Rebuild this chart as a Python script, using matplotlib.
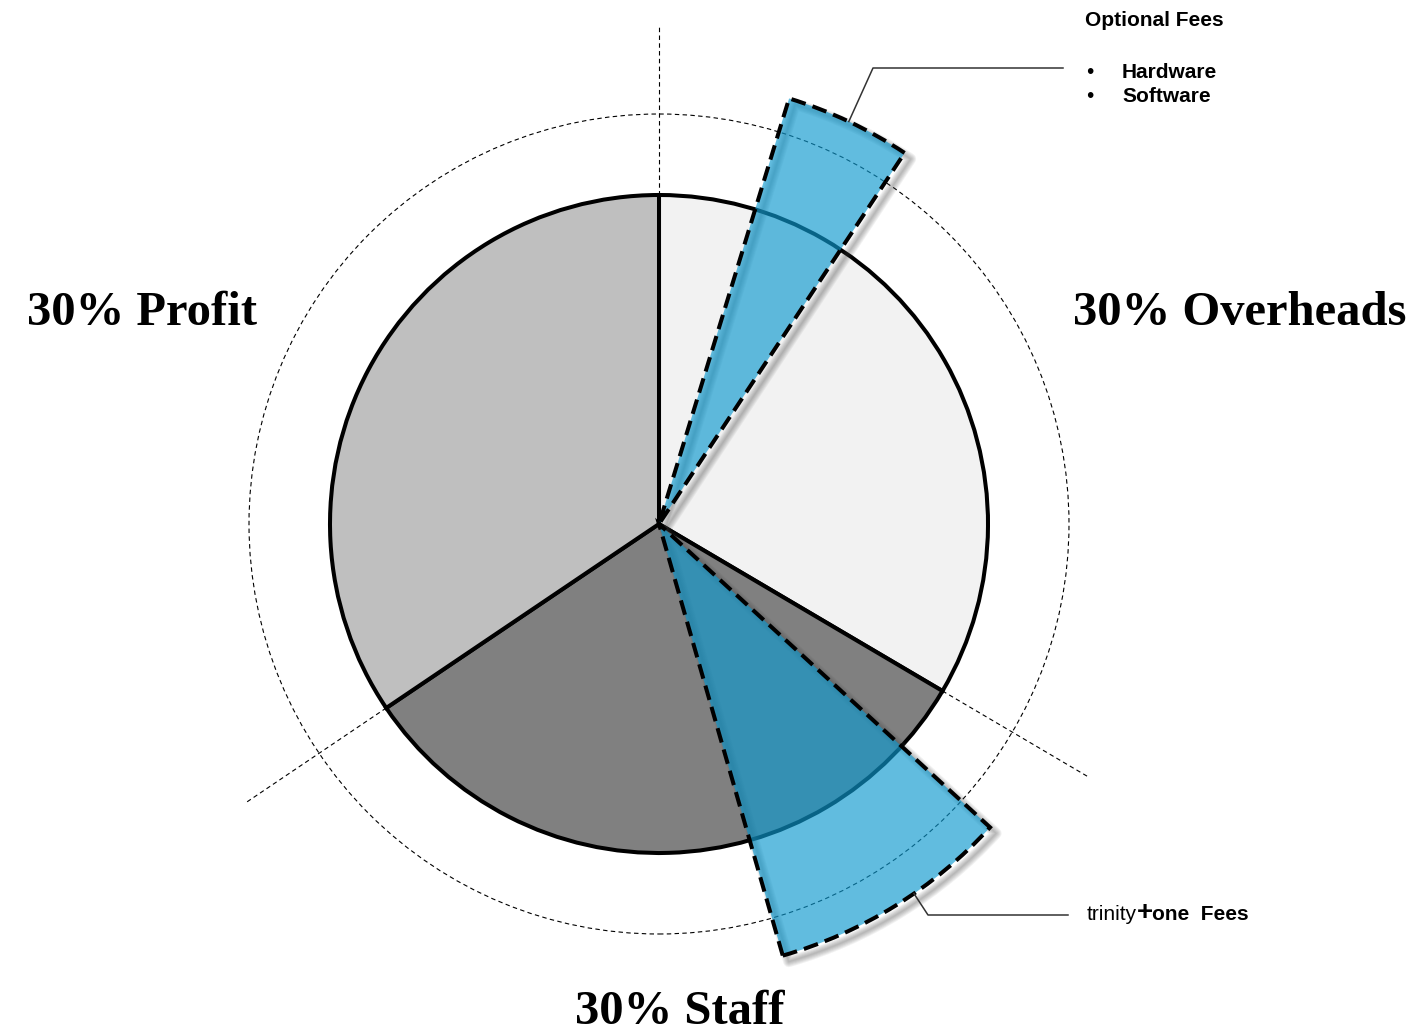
import numpy as np
import matplotlib.pyplot as plt
from matplotlib.patches import Wedge, Circle

# dados do grafico
fatias = ["Overheads", "Staff", "Profit"]
fatias_graus = [120.5, 115.5, 124.0]          # tamanho de cada fatia em graus
cores_fatias = ["#f2f2f2", "#808080", "#bfbfbf"]
rotulos = ["30% Overheads", "30% Staff", "30% Profit"]

# fatias azuis (taxas): angulo inicial, angulo final, raio
taxas_nomes = ["Optional Fees", "trinity+one Fees"]
taxas_theta1 = [56.5, -74.0]
taxas_theta2 = [73.0, -42.5]
taxas_raio = [445, 449]
opcionais = ["Hardware", "Software"]

W, H = 1418, 1036
cx, cy = 659, H - 524
R = 329

fig = plt.figure(figsize=(W / 100, H / 100), dpi=100)
ax = fig.add_axes([0, 0, 1, 1])

# circulo tracejado externo
ax.add_patch(Circle((cx, cy), 410, fill=False, edgecolor="black", lw=0.8,
                    linestyle=(0, (4, 3)), zorder=1))

# linhas radiais tracejadas nas divisoes das fatias
limites = 90 - np.cumsum([0] + fatias_graus[:-1])
for ang in limites:
    a = np.radians(ang)
    ax.plot([cx + R * np.cos(a), cx + 498 * np.cos(a)],
            [cy + R * np.sin(a), cy + 498 * np.sin(a)],
            color="black", lw=0.8, linestyle=(0, (4, 3)), zorder=1)

# pizza principal
ax.pie(fatias_graus, colors=cores_fatias, startangle=90, counterclock=False,
       radius=R, center=(cx, cy), frame=True,
       wedgeprops=dict(edgecolor="black", linewidth=2.9, zorder=2))

# fatias azuis com sombra
for t1, t2, r in zip(taxas_theta1, taxas_theta2, taxas_raio):
    for i in range(6):
        ax.add_patch(Wedge((cx + 6, cy - 6), r, t1, t2, fill=False,
                           edgecolor="#404040", lw=1 + 1.4 * i, alpha=0.07,
                           joinstyle="round", zorder=3))
    ax.add_patch(Wedge((cx, cy), r, t1, t2, facecolor=(13 / 255, 153 / 255, 207 / 255),
                       alpha=0.65, edgecolor="none", zorder=4))
    ax.add_patch(Wedge((cx, cy), r, t1, t2, fill=False, edgecolor="black",
                       lw=2.9, linestyle=(0, (3.7, 1.8)), zorder=5))

# linhas de chamada
ang1 = np.radians((taxas_theta1[0] + taxas_theta2[0]) / 2)
ax.plot([cx + taxas_raio[0] * np.cos(ang1), 873, 1063],
        [cy + taxas_raio[0] * np.sin(ang1), H - 68, H - 68],
        color="#333333", lw=1.1, zorder=6)
ang2 = np.radians(-55.4)
ax.plot([cx + taxas_raio[1] * np.cos(ang2), 928, 1068],
        [cy + taxas_raio[1] * np.sin(ang2), H - 915, H - 915],
        color="#333333", lw=1.1, zorder=6)

# textos das taxas
fs = 15
ax.text(1085, H - 20, taxas_nomes[0], fontsize=fs, fontweight="bold",
        family="Liberation Sans", va="center", ha="left")
for k, item in enumerate(opcionais):
    yy = H - 72 - 25 * k
    ax.text(1086, yy, "•", fontsize=fs, family="Liberation Sans", va="center")
    ax.text(1122, yy, item, fontsize=fs, fontweight="bold",
            family="Liberation Sans", va="center")

t = ax.text(1087, H - 915, "trinity", fontsize=fs, family="Liberation Sans",
            va="center", ha="left")
mais = ax.annotate("+", xycoords=t, xy=(1, 0.62), va="center", ha="left",
                   fontsize=fs + 5, fontweight="bold", family="Liberation Sans")
ax.annotate("one  Fees", xycoords=t, xy=(1, 0.5), xytext=(15, 0),
            textcoords="offset pixels", va="center", ha="left",
            fontsize=fs, fontweight="bold", family="Liberation Sans")

# rotulos grandes
serif = dict(fontsize=35, fontweight="bold", family="Liberation Serif",
             ha="center", va="center")
ax.text(1240, H - 313, rotulos[0], **serif)
ax.text(680, H - 1012, rotulos[1], **serif)
ax.text(142, H - 313, rotulos[2], **serif)

ax.set_xlim(0, W)
ax.set_ylim(0, H)
ax.set_aspect("equal")
ax.axis("off")

plt.savefig("out.png", dpi=100)
plt.close()
